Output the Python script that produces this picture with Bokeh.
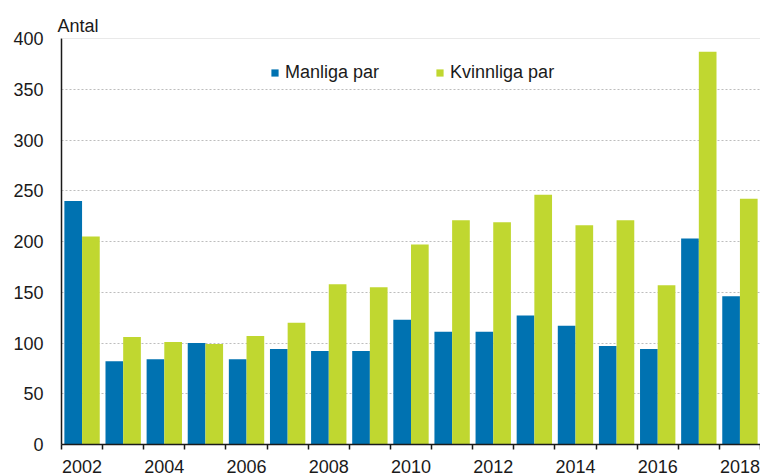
from bokeh.plotting import figure
from bokeh.models import FixedTicker, Legend, LegendItem, Span, Range1d, ColumnDataSource
from bokeh.transform import dodge
from bokeh.embed import file_html
from bokeh.resources import INLINE

years = list(range(2002, 2019))
manliga = [240, 82, 84, 100, 84, 94, 92, 92, 123, 111, 111, 127, 117, 97, 94, 203, 146]
kvinnliga = [205, 106, 101, 99, 107, 120, 158, 155, 197, 221, 219, 246, 216, 221, 157, 387, 242]
tick_years = [2002, 2004, 2006, 2008, 2010, 2012, 2014, 2016, 2018]
y_ticks = [0, 50, 100, 150, 200, 250, 300, 350, 400]
y_label = "Antal"
series_names = ["Manliga par", "Kvinnliga par"]
colors = ["#0072b1", "#c0d730"]

FONT = "Liberation Sans"
FS = "18px"
TXT = "#1a1a1a"

src = ColumnDataSource(dict(year=years, m=manliga, k=kvinnliga))

p = figure(width=760, height=475, output_backend="svg", toolbar_location=None,
           x_range=Range1d(years[0] - 0.5, years[-1] + 0.5),
           y_range=Range1d(y_ticks[0], y_ticks[-1]),
           min_border_left=61, min_border_right=0, min_border_top=38, min_border_bottom=29)
p.outline_line_color = None
p.background_fill_color = "white"

# "Antal" as title above the frame
p.title.text = y_label
p.title.align = "left"
p.title.offset = -4
p.title.standoff = 6
p.title.text_font = FONT
p.title.text_font_size = FS
p.title.text_font_style = "normal"
p.title.text_color = TXT

r1 = p.vbar(x=dodge("year", -0.215, range=p.x_range), top="m", width=0.43, source=src,
            fill_color=colors[0], line_color=None)
r2 = p.vbar(x=dodge("year", 0.215, range=p.x_range), top="k", width=0.43, source=src,
            fill_color=colors[1], line_color=None)

# grid
p.xgrid.visible = False
p.ygrid.ticker = FixedTicker(ticks=y_ticks[:-1])
p.ygrid.grid_line_color = "#bdbdbd"
p.ygrid.grid_line_dash = "2 2"
p.ygrid.grid_line_width = 1
p.ygrid.level = "underlay"
p.add_layout(Span(location=y_ticks[-1], dimension="width", line_color="#d4d4d4", line_width=1))

# y axis
p.yaxis.ticker = FixedTicker(ticks=y_ticks)
p.yaxis.major_tick_out = 0
p.yaxis.major_tick_in = 0
p.yaxis.minor_tick_out = 0
p.yaxis.minor_tick_in = 0
p.yaxis.major_label_standoff = 18
p.yaxis.axis_line_color = "#1a1a1a"
p.yaxis.axis_line_width = 1.5
p.yaxis.major_label_text_font = FONT
p.yaxis.major_label_text_font_size = FS
p.yaxis.major_label_text_color = TXT

# x axis
p.xaxis.ticker = FixedTicker(ticks=tick_years, minor_ticks=[y - 0.5 for y in years] + [years[-1] + 0.5])
p.xaxis.major_tick_out = 0
p.xaxis.major_tick_in = 0
p.xaxis.minor_tick_out = 5
p.xaxis.minor_tick_in = 0
p.xaxis.minor_tick_line_color = "#1a1a1a"
p.xaxis.minor_tick_line_width = 1.5
p.xaxis.major_label_standoff = 10
p.xaxis.axis_line_color = "#1a1a1a"
p.xaxis.axis_line_width = 1.5
p.xaxis.major_label_text_font = FONT
p.xaxis.major_label_text_font_size = FS
p.xaxis.major_label_text_color = TXT

legend = Legend(items=[LegendItem(label=series_names[0], renderers=[r1]),
                       LegendItem(label=series_names[1], renderers=[r2])],
                orientation="horizontal", location=(209, 361),
                glyph_width=9, glyph_height=9, label_standoff=6, spacing=56,
                padding=0, margin=0, border_line_color=None, background_fill_alpha=0,
                label_text_font=FONT, label_text_font_size=FS, label_text_color=TXT)
p.add_layout(legend)

open("out.html", "w").write(file_html(p, INLINE))
